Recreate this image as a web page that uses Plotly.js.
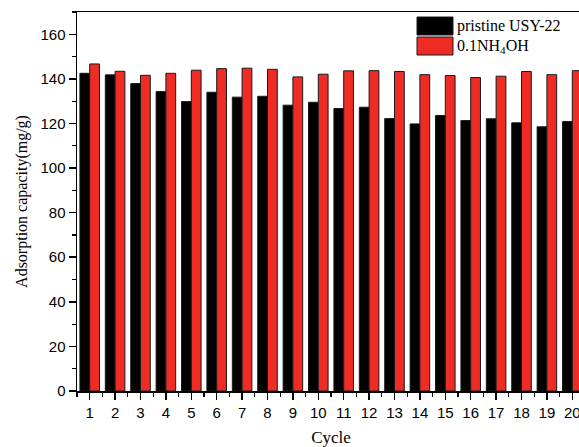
<!DOCTYPE html>
<html>
<head>
<meta charset="utf-8">
<script src="https://cdn.plot.ly/plotly-3.0.1.min.js"></script>
<style>
html,body{margin:0;padding:0;overflow:hidden;background:#fff;}
#chart{width:590px;height:447px;}
</style>
</head>
<body>
<div id="chart"></div>
<script>
const cycles = [1,2,3,4,5,6,7,8,9,10,11,12,13,14,15,16,17,18,19,20];
const pristine = [142.5,141.8,137.9,134.3,129.8,134.0,131.8,132.2,128.2,129.5,126.7,127.3,122.2,119.8,123.6,121.3,122.1,120.3,118.5,120.9];
const nh4oh = [146.7,143.4,141.6,142.5,143.9,144.6,144.8,144.3,140.9,142.1,143.6,143.7,143.3,141.9,141.5,140.6,141.2,143.3,141.9,143.7];
const seriesNames = ['pristine USY-22', '0.1NH<sub>4</sub>OH'];
const seriesColors = ['#000000', '#ee2b25'];
const yTickVals = [0,20,40,60,80,100,120,140,160];

const traces = [pristine, nh4oh].map((vals, i) => ({
  type: 'bar',
  x: cycles,
  y: vals,
  name: seriesNames[i],
  marker: {color: seriesColors[i], line: {color: '#1a1a1a', width: 1}},
  showlegend: false
}));

const serif = 'Liberation Serif, Times New Roman, serif';
const sans = 'Liberation Sans, Arial, sans-serif';

const shapes = [];
const annotations = [];
const legX0 = 417, legX1 = 453, legY = [17, 37], legH = 18;
const W = 590, H = 447, mL = 77, mR = 5, mT = 12, mB = 56;
const pw = W - mL - mR, ph = H - mT - mB;
function px(x){ return (x - mL) / pw; }
function py(y){ return 1 - (y - mT) / ph; }
seriesNames.forEach((n, i) => {
  shapes.push({type:'rect', xref:'paper', yref:'paper',
    x0: px(legX0), x1: px(legX1), y0: py(legY[i] + legH), y1: py(legY[i]),
    fillcolor: seriesColors[i], line: {color: '#1a1a1a', width: 1}});
  annotations.push({xref:'paper', yref:'paper', x: px(455), y: py(legY[i] + legH/2),
    xanchor:'left', yanchor:'middle', text: n, showarrow:false,
    font:{family: serif, size: 16, color:'#000'}});
});

const layout = {
  width: W, height: H,
  margin: {l: mL, r: mR, t: mT, b: mB},
  paper_bgcolor: '#fff', plot_bgcolor: '#fff',
  barmode: 'group', bargap: 0.23, bargroupgap: 0,
  showlegend: false,
  xaxis: {
    range: [0.5, 20.5], tickvals: cycles, ticktext: cycles.map(String),
    ticks: 'outside', ticklen: 7, tickwidth: 1.5, tickcolor: '#000',
    minor: {dtick: 1, tick0: 0.5, ticks: 'outside', ticklen: 4, tickwidth: 1.2, tickcolor:'#000', showgrid:false},
    showline: true, linecolor: '#000', linewidth: 1.5, mirror: true,
    showgrid: false, zeroline: false,
    tickfont: {family: sans, size: 15, color: '#000'},
    title: {text: 'Cycle', font: {family: serif, size: 17, color: '#000'}, standoff: 14}
  },
  yaxis: {
    range: [0, 170], tickvals: yTickVals,
    ticks: 'outside', ticklen: 7, tickwidth: 1.5, tickcolor: '#000',
    minor: {dtick: 10, ticks: 'outside', ticklen: 4, tickwidth: 1.2, tickcolor:'#000', showgrid:false},
    showline: true, linecolor: '#000', linewidth: 1.5, mirror: true,
    showgrid: false, zeroline: false,
    tickfont: {family: sans, size: 15, color: '#000'},
    title: {text: 'Adsorption capacity(mg/g)', font: {family: serif, size: 16, color: '#000'}, standoff: 9}
  },
  shapes: shapes,
  annotations: annotations
};

Plotly.newPlot('chart', traces, layout, {displayModeBar: false, staticPlot: true});
</script>
</body>
</html>
